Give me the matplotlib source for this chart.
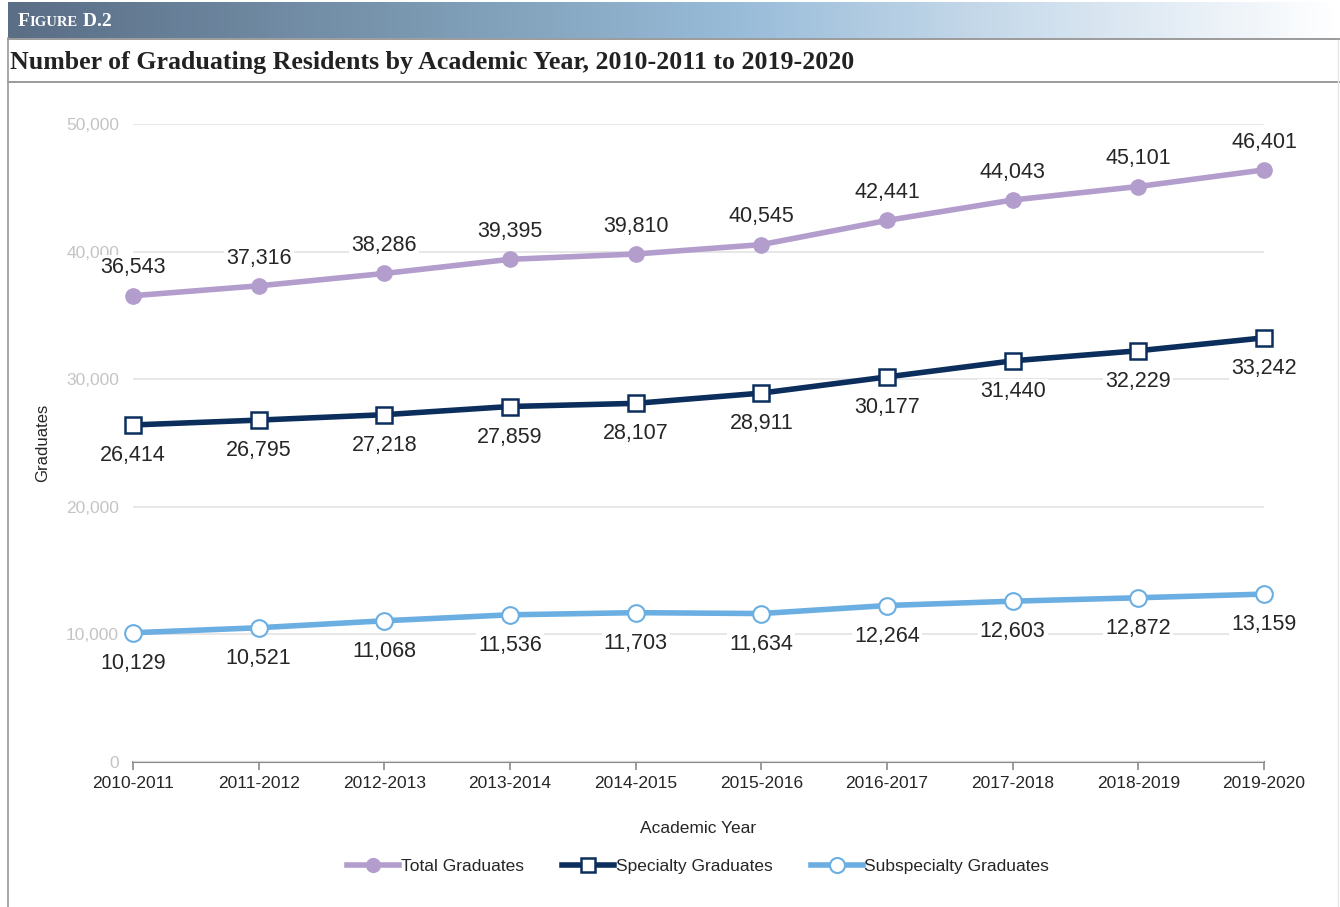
"""
Graduating residents by academic year, figure D.2
"""

import numpy as np
import matplotlib
matplotlib.use('Agg')
import matplotlib.pyplot as plt
from matplotlib.colors import LinearSegmentedColormap
from matplotlib.lines import Line2D

years = ['2010-2011', '2011-2012', '2012-2013', '2013-2014', '2014-2015',
         '2015-2016', '2016-2017', '2017-2018', '2018-2019', '2019-2020']
total = [36543, 37316, 38286, 39395, 39810, 40545, 42441, 44043, 45101, 46401]
specialty = [26414, 26795, 27218, 27859, 28107, 28911, 30177, 31440, 32229, 33242]
subspecialty = [10129, 10521, 11068, 11536, 11703, 11634, 12264, 12603, 12872, 13159]
yticks = [0, 10000, 20000, 30000, 40000, 50000]

c_total = '#b29dcc'
c_spec = '#0b2e5c'
c_sub = '#6aaee2'

plt.rcParams['font.family'] = ['Liberation Sans', 'DejaVu Sans']

W, H = 1340, 907
fig = plt.figure(figsize=(W/100, H/100), dpi=100)

#------------------------------------------------------------------------------
# header band with gradient

hax = fig.add_axes([8/W, 1 - 38/H, (W - 8)/W, 36/H])
cmap = LinearSegmentedColormap.from_list('hdr', [(0.0, '#5a6e86'),
                                                  (0.35, '#809fb8'),
                                                  (0.55, '#99bcd9'),
                                                  (0.75, '#c9dbeb'),
                                                  (1.0, '#ffffff')])
hax.imshow(np.linspace(0, 1, 400)[None, :], aspect='auto', cmap=cmap,
           extent=[0, 1, 0, 1])
hax.set_axis_off()

base_y = H - 26
t1 = fig.text(18/W, base_y/H, 'F', color='white', fontsize=14,
              family='Liberation Serif', weight='bold', va='baseline')
a2 = plt.annotate('IGURE', xy=(1, base_y), xycoords=(t1, 'figure pixels'),
                  color='white', fontsize=10.5, family='Liberation Serif',
                  weight='bold', va='baseline', ha='left',
                  annotation_clip=False)
a3 = plt.annotate(' D.2', xy=(1, base_y), xycoords=(a2, 'figure pixels'),
                  color='white', fontsize=14, family='Liberation Serif',
                  weight='bold', va='baseline', ha='left',
                  annotation_clip=False)

fig.text(10/W, 1 - 62/H,
         'Number of Graduating Residents by Academic Year, 2010-2011 to 2019-2020',
         fontsize=18.6, family='Liberation Serif', weight='bold',
         color='#222222', va='center', ha='left')

# frame lines
for yy in [39, 82]:
    fig.add_artist(Line2D([8/W, 1], [1 - yy/H, 1 - yy/H], color='#8a8a8a',
                          lw=1.2))
fig.add_artist(Line2D([8/W, 8/W], [0, 1 - 38/H], color='#9a9a9a', lw=1.2))
fig.add_artist(Line2D([1338/W, 1338/W], [0, 1 - 40/H], color='#e6e6e6', lw=1.0))

#------------------------------------------------------------------------------
# chart

ax = fig.add_axes([133/W, 1 - 762/H, (1264 - 133)/W, (762 - 124)/H])
x = np.arange(len(years))

ax.plot(x, total, color=c_total, lw=4, marker='o', ms=11,
        mfc=c_total, mec=c_total, label='Total Graduates', zorder=3,
        clip_on=False)
ax.plot(x, specialty, color=c_spec, lw=4, marker='s', ms=11,
        mfc='white', mec=c_spec, mew=1.8, label='Specialty Graduates',
        zorder=3, clip_on=False)
ax.plot(x, subspecialty, color=c_sub, lw=4, marker='o', ms=12,
        mfc='white', mec=c_sub, mew=1.5, label='Subspecialty Graduates',
        zorder=3, clip_on=False)

lbl = dict(ha='center', va='center', fontsize=15.5, color='#262626',
           textcoords='offset points',
           bbox=dict(boxstyle='square,pad=0.1', fc='white', ec='none'))
for i in x:
    ax.annotate(f'{total[i]:,}', (i, total[i]), xytext=(0, 20), zorder=2, **lbl)
    ax.annotate(f'{specialty[i]:,}', (i, specialty[i]), xytext=(0, -22),
                zorder=2, **lbl)
    ax.annotate(f'{subspecialty[i]:,}', (i, subspecialty[i]), xytext=(0, -22),
                zorder=2, **lbl)

ax.set_xlim(0, len(years) - 1)
ax.set_ylim(0, 50000)
ax.set_yticks(yticks)
ax.set_yticklabels([f'{v:,}' for v in yticks], color='#c4c4c4', fontsize=12.5)
ax.set_xticks(x)
ax.set_xticklabels(years, fontsize=12.5, color='#262626')
ax.tick_params(axis='y', length=0, pad=10)
ax.tick_params(axis='x', length=6, color='#8a8a8a', width=1.2, pad=4)
ax.grid(axis='y', color='#e3e3e3', lw=1.2, zorder=0)
for s in ['top', 'right', 'left']:
    ax.spines[s].set_visible(False)
ax.spines['bottom'].set_color('#8a8a8a')
ax.spines['bottom'].set_linewidth(1.5)
ax.spines['bottom'].set_zorder(1)

ax.set_xlabel('Academic Year', fontsize=12.5, color='#262626', labelpad=22)
ax.yaxis.set_label_coords(-83/(1264 - 133), 0.5)
ax.set_ylabel('Graduates', fontsize=12, color='#262626')

ax.legend(loc='center', bbox_to_anchor=(698/W, 1 - 866/H),
          bbox_transform=fig.transFigure,
          ncol=3, frameon=False, fontsize=12.5, handlelength=3.0,
          handletextpad=0.1, columnspacing=2.2, markerscale=0.9,
          labelcolor='#262626')

fig.savefig('out.png', dpi=100)
